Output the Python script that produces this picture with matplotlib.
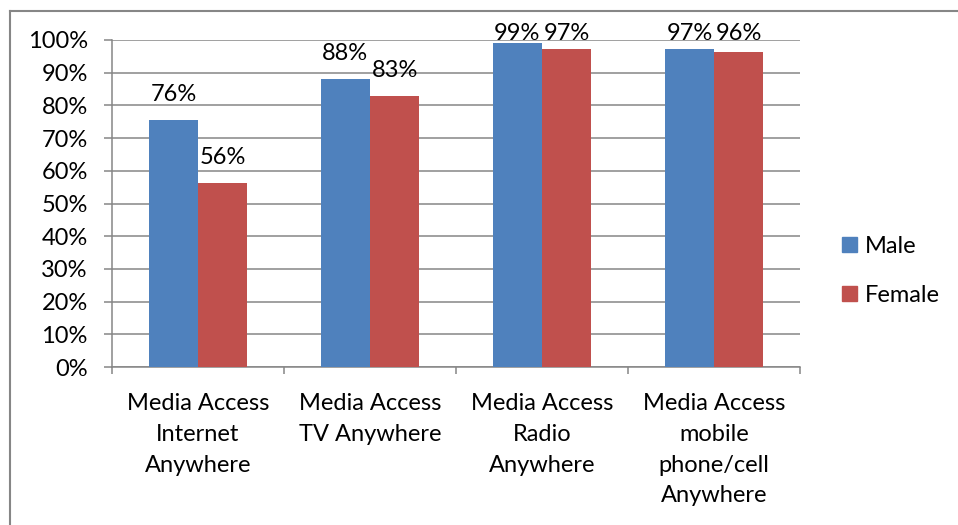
import numpy as np
import matplotlib.pyplot as plt
from matplotlib.patches import Patch
from matplotlib.lines import Line2D
from matplotlib.ticker import FuncFormatter, MultipleLocator

plt.rcParams["font.family"] = ["Lato", "DejaVu Sans"]

categories = ["Media Access\nInternet\nAnywhere",
              "Media Access\nTV Anywhere",
              "Media Access\nRadio\nAnywhere",
              "Media Access\nmobile\nphone/cell\nAnywhere"]
male   = [75.6, 88.0, 99.2, 97.3]
female = [56.4, 83.0, 97.3, 96.4]
series_names = ["Male", "Female"]

BLUE = "#4F81BD"
RED  = "#C0504D"
GRID = "#868686"
FS   = 17

fig = plt.figure(figsize=(9.58, 5.25), dpi=100)
ax = fig.add_axes([112 / 958, 1 - 367 / 525, 688 / 958, 327 / 525])

x = np.arange(len(categories))
w = 1 / 3.5
ax.bar(x - w / 2, male, w, color=BLUE, zorder=3)
ax.bar(x + w / 2, female, w, color=RED, zorder=3)

# labels sit ~19px above the bar, but never above the top gridline
lift = 19 / 3.27
for xs, vals in ((x - w / 2, male), (x + w / 2, female)):
    for xi, v in zip(xs, vals):
        ax.text(xi, min(v + lift, 100.0), f"{v:.0f}%", ha="center",
                va="baseline", fontsize=FS, clip_on=False, zorder=4)

ax.set_xlim(-0.5, len(categories) - 0.5)
ax.set_ylim(0, 100)
ax.yaxis.set_major_locator(MultipleLocator(10))
ax.yaxis.set_major_formatter(FuncFormatter(lambda v, _: f"{v:.0f}%"))
ax.grid(axis="y", color=GRID, lw=1.1, zorder=0)

ax.set_xticks(x)
ax.set_xticklabels(categories, fontsize=FS, linespacing=1.57)
ax.set_xticks(np.arange(len(categories) + 1) - 0.5, minor=True)
ax.tick_params(axis="x", which="major", length=0, pad=19)
ax.tick_params(axis="x", which="minor", length=5, width=1.1, color=GRID)
ax.tick_params(axis="y", length=5.5, width=1.1, color=GRID, pad=12,
               labelsize=FS)

for side in ("top", "right"):
    ax.spines[side].set_visible(False)
for side in ("left", "bottom"):
    ax.spines[side].set_color(GRID)
    ax.spines[side].set_linewidth(1.1)

handles = [Patch(color=BLUE), Patch(color=RED)]
fig.legend(handles, series_names, loc="center left",
           bbox_to_anchor=(842 / 958, 1 - 271 / 525), frameon=False,
           fontsize=FS, handlelength=0.62, handleheight=0.62,
           handletextpad=0.35, labelspacing=1.18, borderpad=0,
           borderaxespad=0)

# outer chart frame (top and left edges only)
fig.add_artist(Line2D([10 / 958, 1], [1 - 11 / 525] * 2, color=GRID, lw=1.5))
fig.add_artist(Line2D([10 / 958] * 2, [0, 1 - 11 / 525], color=GRID, lw=1.5))

fig.savefig("out.png", dpi=100)
